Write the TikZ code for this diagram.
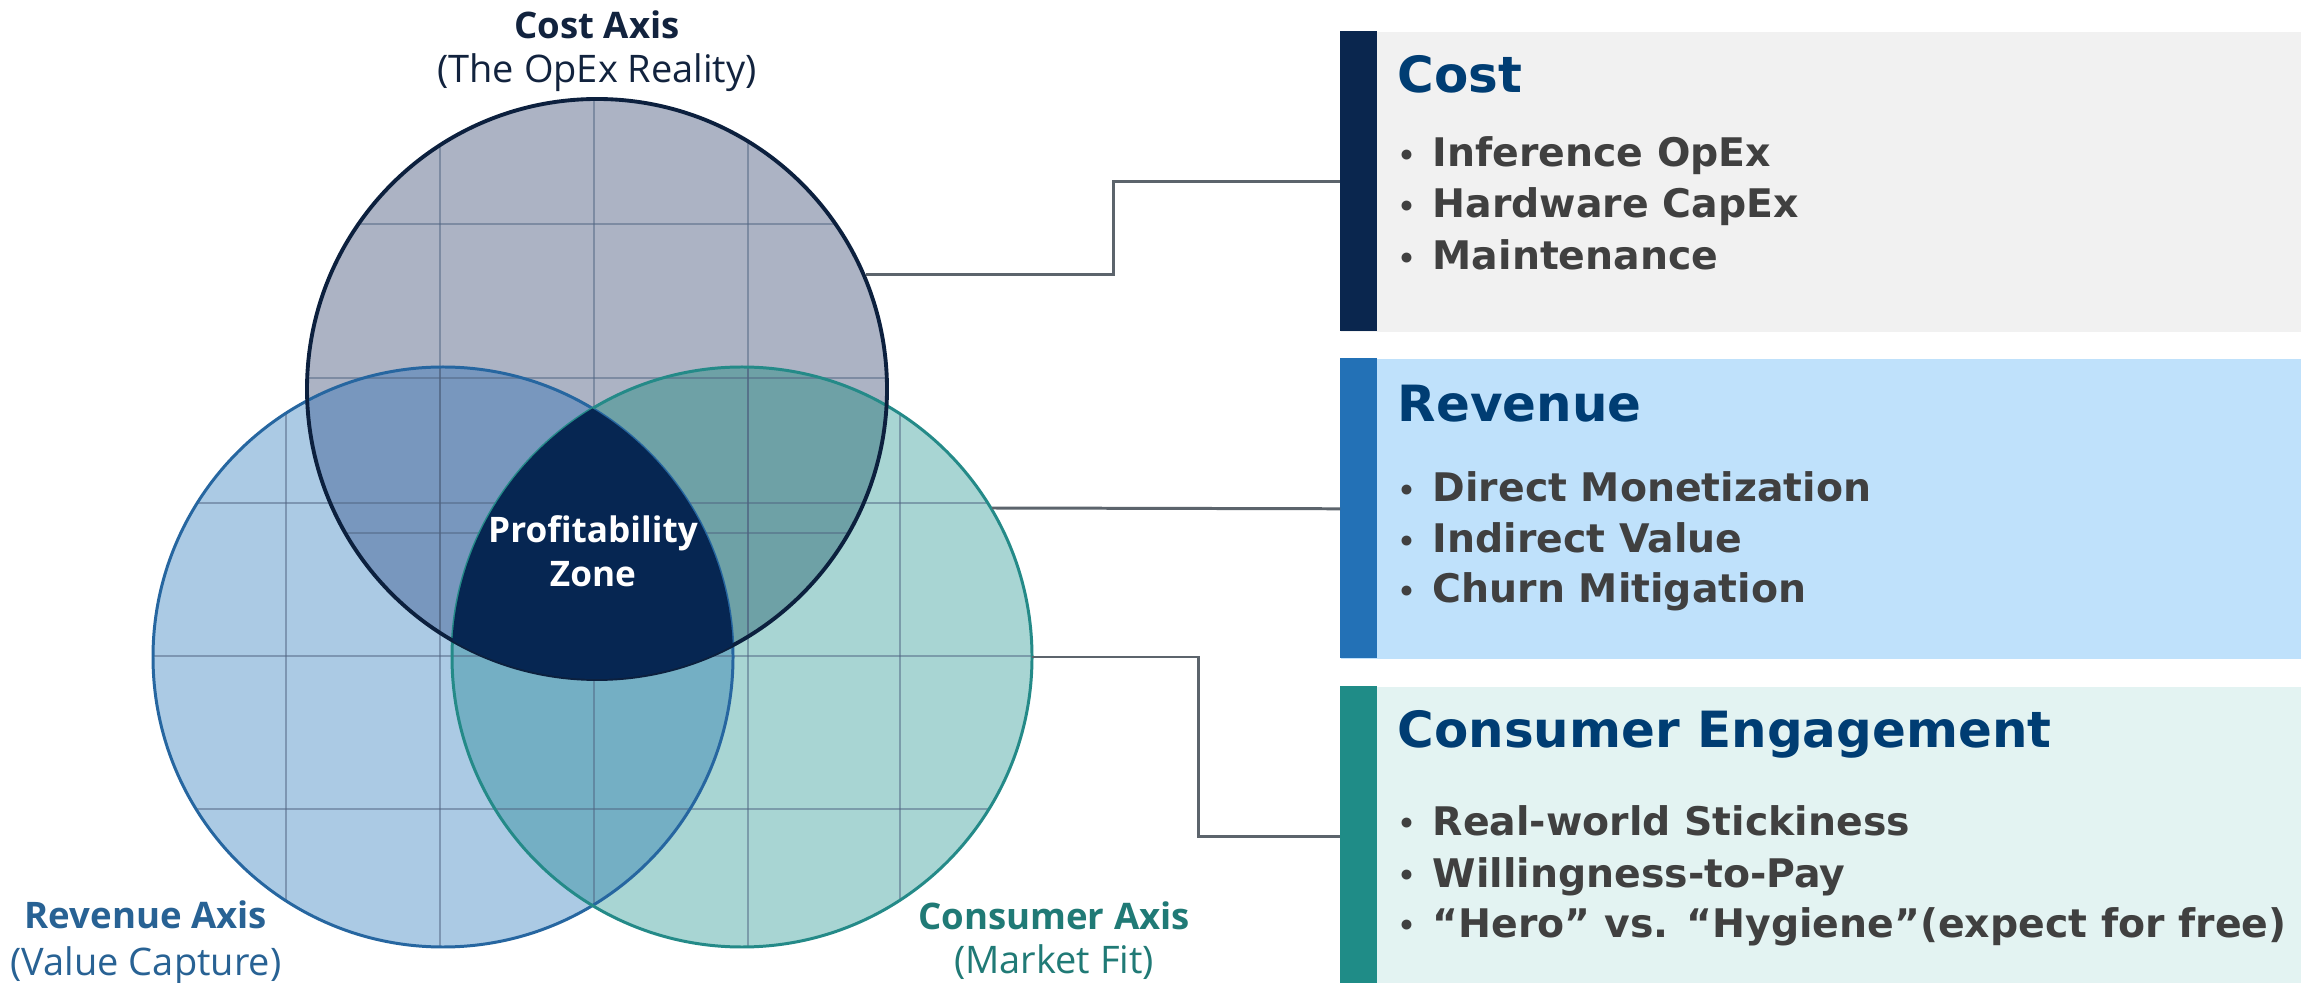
\documentclass[tikz,border=0pt]{standalone}
\usepackage{fontspec}
\setmainfont{DejaVu Sans}
\newfontfamily\axisfont{Open Sans}
\usetikzlibrary{calc}

\definecolor{costfill}{RGB}{172,179,196}
\definecolor{revfill}{RGB}{171,202,228}
\definecolor{confill}{RGB}{168,213,211}
\definecolor{costrev}{RGB}{120,151,190}
\definecolor{costcon}{RGB}{110,161,166}
\definecolor{revcon}{RGB}{116,175,196}
\definecolor{zonenavy}{RGB}{6,38,82}
\definecolor{costline}{RGB}{12,32,62}
\definecolor{revline}{RGB}{38,102,160}
\definecolor{conline}{RGB}{36,138,136}
\definecolor{gridc}{RGB}{80,100,130}
\definecolor{linkgray}{RGB}{92,100,108}
\definecolor{costbg}{RGB}{241,241,241}
\definecolor{revbg}{RGB}{191,225,251}
\definecolor{conbg}{RGB}{227,243,242}
\definecolor{costbar}{RGB}{10,38,78}
\definecolor{revbar}{RGB}{35,113,182}
\definecolor{conbar}{RGB}{31,140,135}
\definecolor{titleblue}{RGB}{0,61,115}
\definecolor{itemgray}{RGB}{64,64,64}
\definecolor{costtxt}{RGB}{18,35,62}
\definecolor{revtxt}{RGB}{40,98,148}
\definecolor{contxt}{RGB}{32,122,118}

\def\rad{290}
\def\itemdot{\makebox[0.35cm][l]{\raisebox{0.05em}{\fontsize{8}{8}\selectfont •}}}

\tikzset{
	panel/.style={draw=none, minimum width=9.6cm, minimum height=3cm, inner sep=0pt, anchor=north west},
	ttl/.style={anchor=base west, inner sep=0pt, text=titleblue, font=\bfseries\fontsize{14.2}{16}\selectfont},
	item/.style={anchor=base west, inner sep=0pt, text=itemgray, font=\bfseries\fontsize{11.2}{14}\selectfont},
	axis/.style={anchor=base, inner sep=0pt, font=\axisfont\bfseries\fontsize{10.4}{12}\selectfont},
	axissub/.style={anchor=base, inner sep=0pt, font=\axisfont\fontsize{10.8}{13}\selectfont},
	link/.style={draw=linkgray, line width=0.85pt},
	gridline/.style={draw=gridc, draw opacity=0.5, line width=0.5pt}
}

\begin{document}
\begin{tikzpicture}[x=0.01cm,y=-0.01cm]
	%%%%% START %%%%%
	\useasboundingbox (0,0) rectangle (2313,983);
	\fill[white] (0,0) rectangle (2313,983);

	\coordinate (cost) at (597,389);
	\coordinate (rev) at (443,657);
	\coordinate (con) at (742,657);

	% base discs
	\fill[revfill] (rev) circle (\rad);
	\fill[confill] (con) circle (\rad);
	\fill[costfill] (cost) circle (\rad);

	% pairwise overlaps
	\begin{scope}
		\clip (cost) circle (\rad);
		\fill[costrev] (rev) circle (\rad);
		\fill[costcon] (con) circle (\rad);
	\end{scope}
	\begin{scope}
		\clip (rev) circle (\rad);
		\fill[revcon] (con) circle (\rad);
	\end{scope}

	% grids
	\begin{scope}
		\clip (rev) circle (\rad) (con) circle (\rad);
		\foreach \gx in {286,440,594,748,900} \draw[gridline] (\gx,350) -- (\gx,960);
		\foreach \gy in {503,656,809} \draw[gridline] (140,\gy) -- (1040,\gy);
	\end{scope}
	\begin{scope}
		\clip (cost) circle (\rad);
		\foreach \gx in {440,594,748} \draw[gridline] (\gx,90) -- (\gx,690);
		\foreach \gy in {224,378,533} \draw[gridline] (300,\gy) -- (890,\gy);
	\end{scope}

	% outlines
	\draw[revline, line width=0.85pt] (rev) circle (\rad);
	\draw[conline, line width=0.85pt] (con) circle (\rad);
	\draw[costline, line width=1.1pt] (cost) circle (\rad);

	% profitability zone
	\begin{scope}
		\clip (cost) circle (\rad);
		\clip (rev) circle (\rad);
		\fill[zonenavy] (con) circle (\rad);
	\end{scope}
	\node[axis, text=white, font=\axisfont\bfseries\fontsize{10}{12}\selectfont] (zone1) at (593,543) {Profitability};
	\node[axis, text=white, font=\axisfont\bfseries\fontsize{10}{12}\selectfont] (zone2) at (593,587) {Zone};

	% axis labels
	\node[axis, text=costtxt] (costax) at (597,39) {Cost Axis};
	\node[axissub, text=costtxt] (costsub) at (597,83) {(The OpEx Reality)};
	\node[axis, text=revtxt] (revax) at (146,928) {Revenue Axis};
	\node[axissub, text=revtxt] (revsub) at (146,975) {(Value Capture)};
	\node[axis, text=contxt] (conax) at (1054,929) {Consumer Axis};
	\node[axissub, text=contxt] (consub) at (1054,973) {(Market Fit)};

	% panels
	\node[panel, fill=costbg] (costbox) at (1340,31) {};
	\fill[costbar] (costbox.north west) rectangle ++(37,300);
	\node[panel, fill=revbg] (revbox) at (1340,358) {};
	\fill[revbar] (revbox.north west) rectangle ++(37,300);
	\node[panel, fill=conbg] (conbox) at (1340,686) {};
	\fill[conbar] (conbox.north west) rectangle ++(37,300);

	\node[ttl] (costttl) at (1397,93) {Cost};
	\node[item] (cost1) at (1397,167) {\itemdot Inference OpEx};
	\node[item] (cost2) at (1397,218) {\itemdot Hardware CapEx};
	\node[item] (cost3) at (1397,270) {\itemdot Maintenance};

	\node[ttl] (revttl) at (1397,422) {Revenue};
	\node[item] (rev1) at (1397,502) {\itemdot Direct Monetization};
	\node[item] (rev2) at (1397,553) {\itemdot Indirect Value};
	\node[item] (rev3) at (1397,603) {\itemdot Churn Mitigation};

	\node[ttl] (conttl) at (1397,748) {Consumer Engagement};
	\node[item] (con1) at (1397,835) {\itemdot Real-world Stickiness};
	\node[item] (con2) at (1397,887) {\itemdot Willingness-to-Pay};
	\node[item] (con3) at (1397,937) {\itemdot “Hero” vs. “Hygiene”(expect for free)};

	% connectors
	\coordinate (costout) at (866,275);
	\coordinate (revout) at (992,508);
	\coordinate (conout) at (1032,657);
	\draw[link] (costout) -- ++(247,0) |- (costbox.west);
	\draw[link] (revout) -- (revbox.west);
	\draw[link] (conout) -- ++(166,0) |- (conbox.west);
	%%%%% END %%%%%
\end{tikzpicture}
\end{document}
